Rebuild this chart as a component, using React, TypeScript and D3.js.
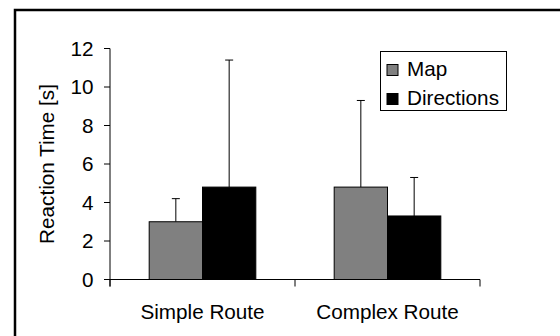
import React from "react";
import * as d3 from "d3";

const categories = ["Simple Route", "Complex Route"];
const series = ["Map", "Directions"];
const seriesColors = ["#808080", "#000000"];
// mean reaction time per series, per category
const mapMeans = [3.0, 4.8];
const mapErrors = [1.2, 4.5];
const directionsMeans = [4.8, 3.3];
const directionsErrors = [6.6, 2.0];
const yTicks = [0, 2, 4, 6, 8, 10, 12];

const width = 560;
const height = 336;
const font = "'Liberation Sans', Arial, sans-serif";
const fs = 20.7;

export default function App() {
  const y = d3.scaleLinear().domain([0, 12]).range([279.5, 48.5]);
  const x0 = d3.scaleBand().domain(categories).range([110, 480]);
  const x1 = d3
    .scaleBand()
    .domain(series)
    .range([0, x0.bandwidth()])
    .paddingOuter(0.735);

  const means = [mapMeans, directionsMeans];
  const errors = [mapErrors, directionsErrors];

  const bars = categories.flatMap((c, ci) =>
    series.map((s, si) => ({
      cat: c,
      s,
      color: seriesColors[si],
      value: means[si][ci],
      err: errors[si][ci],
    }))
  );

  const xTickPositions = [110, ...categories.map((c) => (x0(c) as number) + x0.bandwidth())];

  return (
    <svg
      width={width}
      height={height}
      style={{ position: "absolute", left: 0, top: 0, background: "#fff" }}
      fontFamily={font}
    >
      <rect x={15} y={10} width={600} height={400} fill="#fff" stroke="#000" strokeWidth={2.5} />

      {/* bars */}
      {bars.map((b, i) => {
        const bx = (x0(b.cat) as number) + (x1(b.s) as number);
        const cx = bx + x1.bandwidth() / 2;
        return (
          <g key={i}>
            <line x1={cx} x2={cx} y1={y(b.value)} y2={y(b.value + b.err)} stroke="#000" strokeWidth={1} />
            <line x1={cx - 4} x2={cx + 4} y1={y(b.value + b.err)} y2={y(b.value + b.err)} stroke="#000" strokeWidth={1} />
            <rect
              x={bx}
              y={y(b.value)}
              width={x1.bandwidth()}
              height={y(0) - y(b.value)}
              fill={b.color}
              stroke="#000"
              strokeWidth={1}
            />
          </g>
        );
      })}

      {/* y axis */}
      <line x1={110} x2={110} y1={y(12)} y2={y(0) + 7} stroke="#000" strokeWidth={1} />
      {yTicks.map((t) => (
        <g key={t}>
          <line x1={104} x2={110} y1={y(t)} y2={y(t)} stroke="#000" strokeWidth={1} />
          <text x={93.5} y={y(t)} dy="0.36em" textAnchor="end" fontSize={fs}>
            {t}
          </text>
        </g>
      ))}
      <text
        transform={`translate(53.5,${(y(0) + y(12)) / 2}) rotate(-90)`}
        textAnchor="middle"
        fontSize={fs}
      >
        Reaction Time [s]
      </text>

      {/* x axis */}
      <line x1={110} x2={480} y1={y(0)} y2={y(0)} stroke="#000" strokeWidth={1} />
      {xTickPositions.map((p, i) => (
        <line key={i} x1={p} x2={p} y1={y(0)} y2={y(0) + 7} stroke="#000" strokeWidth={1} />
      ))}
      {categories.map((c) => (
        <text
          key={c}
          x={(x0(c) as number) + x0.bandwidth() / 2}
          y={318.5}
          textAnchor="middle"
          fontSize={fs}
        >
          {c}
        </text>
      ))}

      {/* legend */}
      <rect x={380.5} y={51.5} width={126} height={59} fill="#fff" stroke="#000" strokeWidth={1} />
      {series.map((s, i) => (
        <g key={s} transform={`translate(387,${64.5 + i * 29})`}>
          <rect width={11} height={11} fill={seriesColors[i]} stroke="#000" strokeWidth={1} />
          <text x={20} y={11.5} fontSize={fs}>
            {s}
          </text>
        </g>
      ))}
    </svg>
  );
}
